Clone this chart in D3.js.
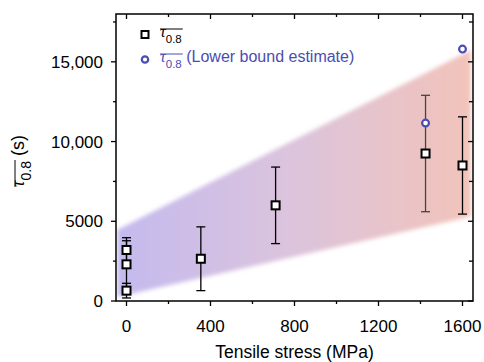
<!DOCTYPE html>
<html><head><meta charset="utf-8">
<script src="https://cdn.jsdelivr.net/npm/d3@7/dist/d3.min.js"></script>
<style>body{margin:0;background:#fff}svg{display:block}text{font-family:"Liberation Sans",Arial,sans-serif}</style>
</head><body>
<svg id="c" width="484" height="362"></svg>
<script>
// ---- data ----
const stress   = [0, 0, 0, 354, 710, 1424, 1600];
const tau      = [650, 2300, 3200, 2650, 6000, 9250, 8500];
const errLow   = [190, 700, 2400, 650, 3600, 5600, 5450];
const errHigh  = [1110, 3780, 3970, 4650, 8400, 12900, 11550];
const lbStress = [1424, 1600];
const lbTau    = [11160, 15800];
const bandX      = [-45, 1640];
const bandTop    = [4450, 15750];
const bandBottom = [250, 5300];
const xTicks = [0, 400, 800, 1200, 1600];
const xMinor = [200, 600, 1000, 1400];
const yTicks = [0, 5000, 10000, 15000];
const yMinor = [2500, 7500, 12500, 17500];

const svg = d3.select("#c");
const L=116, R=473, T=14, B=301;
const x = d3.scaleLinear().domain([-50,1650]).range([L,R]);
const y = d3.scaleLinear().domain([0,18000]).range([B,T]);
const blue = "#4a4db2";

const defs = svg.append("defs");
const grad = defs.append("linearGradient").attr("id","g").attr("gradientUnits","userSpaceOnUse")
  .attr("x1",x(bandX[0])).attr("x2",x(bandX[1])).attr("y1",0).attr("y2",0);
grad.append("stop").attr("offset","0").attr("stop-color","#c4baee");
grad.append("stop").attr("offset","0.5").attr("stop-color","#dcc4dc");
grad.append("stop").attr("offset","1").attr("stop-color","#f2c3ba");
defs.append("filter").attr("id","bl").attr("x","-0.1").attr("y","-0.1").attr("width","1.2").attr("height","1.2")
  .append("feGaussianBlur").attr("stdDeviation",2.2);
defs.append("clipPath").attr("id","cp").append("rect").attr("x",L+1).attr("y",T).attr("width",R-L-2).attr("height",B-T);

// band
const bandPts = [[bandX[0],bandTop[0]],[bandX[1],bandTop[1]],[bandX[1],bandBottom[1]],[bandX[0],bandBottom[0]]];
svg.append("g").attr("clip-path","url(#cp)").append("path")
  .attr("d", d3.line().x(d=>x(d[0])).y(d=>y(d[1]))(bandPts)+"Z")
  .attr("fill","url(#g)").attr("filter","url(#bl)");

// frame
svg.append("rect").attr("x",L).attr("y",T).attr("width",R-L).attr("height",B-T)
  .attr("fill","none").attr("stroke","#000").attr("stroke-width",1.5);

const tk = svg.append("g").attr("stroke","#000").attr("stroke-width",1.3);
xTicks.forEach(v=>{ tk.append("line").attr("x1",x(v)).attr("x2",x(v)).attr("y1",B).attr("y2",B+5);
  tk.append("line").attr("x1",x(v)).attr("x2",x(v)).attr("y1",T).attr("y2",T+5);});
xMinor.forEach(v=>{ tk.append("line").attr("x1",x(v)).attr("x2",x(v)).attr("y1",B).attr("y2",B+3);
  tk.append("line").attr("x1",x(v)).attr("x2",x(v)).attr("y1",T).attr("y2",T+3);});
yTicks.forEach(v=>{ tk.append("line").attr("y1",y(v)).attr("y2",y(v)).attr("x1",L).attr("x2",L-5);
  tk.append("line").attr("y1",y(v)).attr("y2",y(v)).attr("x1",R).attr("x2",R-5);});
yMinor.forEach(v=>{ tk.append("line").attr("y1",y(v)).attr("y2",y(v)).attr("x1",L).attr("x2",L-3);
  tk.append("line").attr("y1",y(v)).attr("y2",y(v)).attr("x1",R).attr("x2",R-4);});

const fmt = d3.format(",");
svg.append("g").selectAll("text").data(xTicks).join("text")
  .attr("x",d=>x(d)).attr("y",332).attr("text-anchor","middle").attr("font-size",17).text(d=>d);
svg.append("g").selectAll("text").data(yTicks).join("text")
  .attr("x",103).attr("y",d=>y(d)+6).attr("text-anchor","end").attr("font-size",17)
  .text(d=> d===5000 ? "5000" : fmt(d));
svg.append("text").attr("x",(L+R)/2).attr("y",358).attr("text-anchor","middle").attr("font-size",17.5)
  .text("Tensile stress (MPa)");

// tau-bar helper
function drawTau(g, x0, y0, fs, color, suffix, anchorMid, subScale){
  subScale = subScale || 0.72;
  const t = g.append("text").attr("fill",color).attr("font-size",fs);
  const s1 = t.append("tspan").attr("font-family","Liberation Serif").attr("font-style","italic").text("τ");
  const s2 = t.append("tspan").attr("font-size",fs*subScale).attr("dy",fs*0.38).text("0.8");
  const w = s1.node().getComputedTextLength()+s2.node().getComputedTextLength();
  let s3=null;
  if(suffix){ s3 = t.append("tspan").attr("dy",-fs*0.38).text(suffix); }
  const total = w + (s3? s3.node().getComputedTextLength():0);
  const sx = anchorMid ? x0-total/2 : x0;
  t.attr("x",sx).attr("y",y0);
  g.append("line").attr("x1",sx).attr("x2",sx+w+1).attr("y1",y0-fs*0.5).attr("y2",y0-fs*0.5)
    .attr("stroke",color).attr("stroke-width",1);
}

// y label
const yl = svg.append("g").attr("transform","translate(24,161) rotate(-90)");
drawTau(yl,0,0,18,"#000"," (s)",true,0.78);

// error bars
const eb = svg.append("g").attr("stroke","#000").attr("stroke-width",1.3);
stress.forEach((s,i)=>{
  const col = i===5 ? "#444" : "#000";
  eb.append("line").attr("x1",x(s)).attr("x2",x(s)).attr("y1",y(errLow[i])).attr("y2",y(errHigh[i])).attr("stroke",col);
  [errLow[i],errHigh[i]].forEach(v=>eb.append("line").attr("x1",x(s)-4.5).attr("x2",x(s)+4.5).attr("y1",y(v)).attr("y2",y(v)).attr("stroke",col));
});
// squares
svg.append("g").selectAll("rect").data(stress).join("rect")
  .attr("x",d=>x(d)-4).attr("y",(d,i)=>y(tau[i])-4).attr("width",8).attr("height",8)
  .attr("fill","#fff").attr("stroke","#000").attr("stroke-width",2);
// circles
svg.append("g").selectAll("circle").data(lbStress).join("circle")
  .attr("cx",d=>x(d)).attr("cy",(d,i)=>y(lbTau[i])).attr("r",3.4)
  .attr("fill","#fff").attr("stroke",blue).attr("stroke-width",2.2);

// legend
const lg = svg.append("g");
lg.append("rect").attr("x",141.5).attr("y",31).attr("width",7).attr("height",7).attr("fill","#fff").attr("stroke","#000").attr("stroke-width",2);
drawTau(lg,160,37,16,"#000",null,false);
lg.append("circle").attr("cx",145).attr("cy",59.5).attr("r",3.2).attr("fill","#fff").attr("stroke",blue).attr("stroke-width",2.2);
drawTau(lg,160,62,16,blue," (Lower bound estimate)",false);
</script>
</body></html>
